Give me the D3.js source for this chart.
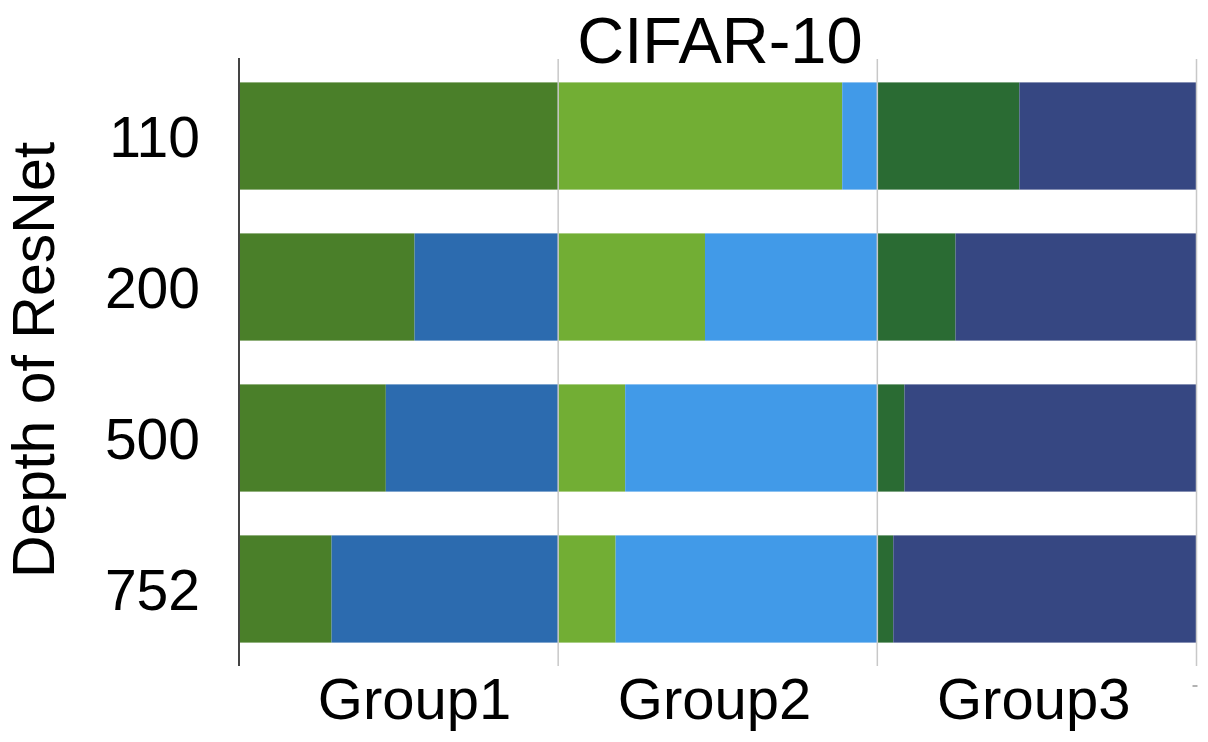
<!DOCTYPE html>
<html>
<head>
<meta charset="utf-8">
<script src="https://cdn.jsdelivr.net/npm/d3@7"></script>
<style>
  body { margin: 0; background: #fff; }
  svg { display: block; font-family: "Liberation Sans", Arial, Helvetica, sans-serif; }
</style>
</head>
<body>
<div id="viz"></div>
<script>
// chart values
var depths = ['110', '200', '500', '752'];
var groups = ['Group1', 'Group2', 'Group3'];
var groupLabelPos = [0.55, 1.49, 2.49];
var group1A = [1.00, 0.55, 0.46, 0.29];
var group1B = [0.00, 0.45, 0.54, 0.71];
var group2A = [0.89, 0.46, 0.21, 0.18];
var group2B = [0.11, 0.54, 0.79, 0.82];
var group3A = [0.445, 0.245, 0.085, 0.05];
var group3B = [0.555, 0.755, 0.915, 0.95];

var keys = ['g1a', 'g1b', 'g2a', 'g2b', 'g3a', 'g3b'];
var colors = d3.scaleOrdinal()
  .domain(keys)
  .range(['#4a7f29', '#2c6baf', '#72ae34', '#419ae8', '#2a6b33', '#364782']);

var rows = depths.map(function(d, i) {
  return {
    depth: d,
    g1a: group1A[i], g1b: group1B[i],
    g2a: group2A[i], g2b: group2B[i],
    g3a: group3A[i], g3b: group3B[i]
  };
});

var width = 1208, height = 742;

var svg = d3.select('#viz').append('svg')
  .attr('width', width)
  .attr('height', height);

var xScale = d3.scaleLinear()
  .domain([0, 3])
  .range([239, 1196.5]);

var yScale = d3.scaleBand()
  .domain(depths)
  .range([59, 666])
  .paddingInner(0.29)
  .paddingOuter(0.155);

var series = d3.stack().keys(keys)(rows);

// bars
svg.append('g')
  .selectAll('g').data(series)
  .enter().append('g')
    .attr('fill', function(d) { return colors(d.key); })
  .selectAll('rect').data(function(d) { return d; })
  .enter().append('rect')
    .attr('x', function(d) { return xScale(d[0]); })
    .attr('width', function(d) { return Math.max(0, xScale(d[1]) - xScale(d[0])); })
    .attr('y', function(d) { return yScale(d.data.depth); })
    .attr('height', yScale.bandwidth());

// group gridlines
svg.append('g')
  .selectAll('line').data([1, 2, 3])
  .enter().append('line')
    .attr('x1', function(d) { return xScale(d); })
    .attr('x2', function(d) { return xScale(d); })
    .attr('y1', 59)
    .attr('y2', 666)
    .attr('stroke', '#c8c8c8')
    .attr('stroke-width', 1.5);

// left axis line
svg.append('line')
  .attr('x1', xScale(0)).attr('x2', xScale(0))
  .attr('y1', 58).attr('y2', 666)
  .attr('stroke', '#444')
  .attr('stroke-width', 2);

// tiny mark bottom right
svg.append('line')
  .attr('x1', xScale(3) - 4).attr('x2', xScale(3) + 1)
  .attr('y1', 686).attr('y2', 686)
  .attr('stroke', '#999')
  .attr('stroke-width', 1.5);

// row labels
svg.append('g')
  .selectAll('text').data(depths)
  .enter().append('text')
    .attr('x', 200)
    .attr('y', function(d) { return yScale(d) + yScale.bandwidth() / 2 + 21; })
    .attr('text-anchor', 'end')
    .style('font-size', '57px')
    .text(function(d) { return d; });

// group labels
svg.append('g')
  .selectAll('text').data(groups)
  .enter().append('text')
    .attr('x', function(d, i) { return xScale(groupLabelPos[i]); })
    .attr('y', 719)
    .attr('text-anchor', 'middle')
    .style('font-size', '58px')
    .text(function(d) { return d; });

// title
svg.append('text')
  .attr('x', 720)
  .attr('y', 63)
  .attr('text-anchor', 'middle')
  .style('font-size', '65px')
  .text('CIFAR-10');

// y title
svg.append('text')
  .attr('transform', 'translate(54,360) rotate(-90)')
  .attr('text-anchor', 'middle')
  .style('font-size', '59px')
  .text('Depth of ResNet');
</script>
</body>
</html>
